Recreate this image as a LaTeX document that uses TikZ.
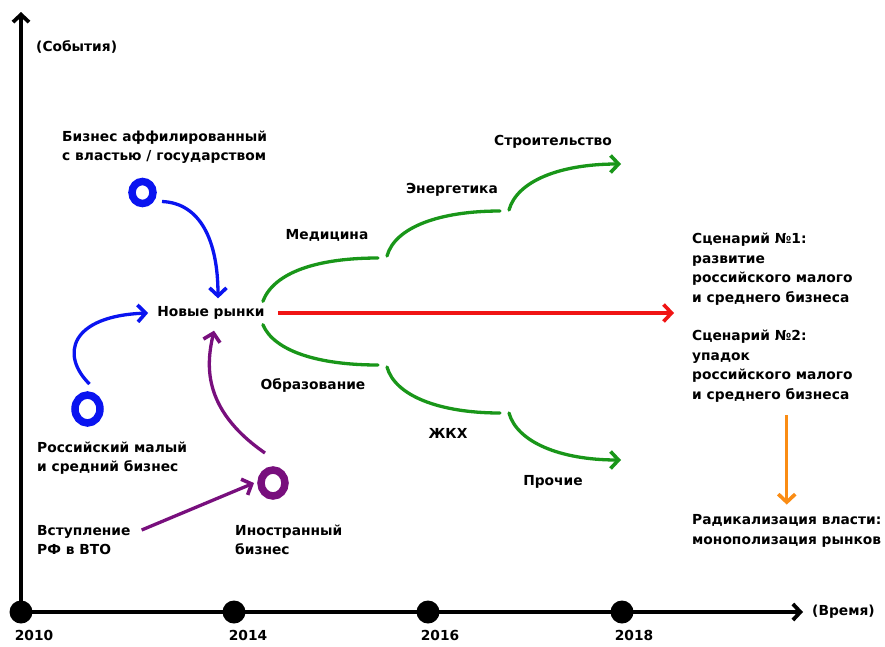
\documentclass[tikz,border=0pt]{standalone}
\usepackage{fontspec}
\setmainfont{DejaVu Sans}
\usetikzlibrary{arrows.meta,shapes.geometric}

\definecolor{ringblue}{RGB}{10,20,240}
\definecolor{ringpurple}{RGB}{120,15,125}
\definecolor{branchgreen}{RGB}{25,150,25}
\definecolor{mainred}{RGB}{240,20,20}
\definecolor{fallorange}{RGB}{250,140,20}

\tikzset{
  txt/.style={font=\bfseries\fontsize{13.8}{19.5}\selectfont, inner sep=1pt, align=left},
  ring/.style={ellipse, draw, line width=7.5pt, outer sep=7pt, inner sep=0pt},
  yeardot/.style={circle, fill=black, minimum size=23pt, inner sep=0pt},
  axis/.style={line width=3.6pt, -{Straight Barb[length=7.5pt,width=16pt,line width=3.8pt]}},
  link/.style={line width=3.3pt, -{Straight Barb[length=8pt,width=17pt,line width=3.6pt]}},
  branch/.style={line width=3.3pt, draw=branchgreen, line cap=round},
}

\begin{document}
\begin{tikzpicture}[x=1pt,y=-1pt]
  \useasboundingbox (0,0) rectangle (885,646);

  % axes
  \coordinate (ytip) at (21,12);
  \coordinate (xtip) at (803,612);
  \draw[axis] (21,612) -- (ytip);
  \draw[axis] (21,612) -- (xtip);
  \node[yeardot, label={[txt, xshift=13pt, label distance=5pt]below:2010}] (y2010) at (21,612) {};
  \node[yeardot, label={[txt, xshift=14pt, label distance=5pt]below:2014}] (y2014) at (234,612) {};
  \node[yeardot, label={[txt, xshift=12pt, label distance=5pt]below:2016}] (y2016) at (428,612) {};
  \node[yeardot, label={[txt, xshift=12pt, label distance=5pt]below:2018}] (y2018) at (622,612) {};
  \node[txt, anchor=west] (events) at (35,47) {(События)};
  \node[txt, anchor=west] (time) at (811,612) {(Время)};

  % actors
  \node[txt, anchor=west] (aff) at (61,147) {Бизнес аффилированный\\с властью / государством};
  \node[ring, draw=ringblue, minimum width=21pt, minimum height=22pt] (ring1) at (142.5,192.5) {};
  \node[ring, draw=ringblue, minimum width=25pt, minimum height=28pt] (ring2) at (87.5,409) {};
  \node[txt, anchor=west] (smb) at (36,458) {Российский малый\\и средний бизнес};
  \node[ring, draw=ringpurple, minimum width=24pt, minimum height=26pt] (ring3) at (273,483) {};
  \node[txt, anchor=west] (wto) at (36,540) {Вступление\\РФ в ВТО};
  \node[txt, anchor=west] (foreign) at (234,540) {Иностранный\\бизнес};
  \node[txt] (markets) at (211,313) {Новые рынки};

  \draw[link, ringblue] ([xshift=2pt,yshift=-9pt]ring1.east) .. controls (200,203) and (218,240) .. ([xshift=7pt,yshift=7pt]markets.north);
  \draw[link, ringblue] ([xshift=2pt,yshift=4pt]ring2.north) .. controls (60,355) and (70,316) .. ([xshift=-8pt]markets.west);
  \draw[link, ringpurple] ([xshift=-8pt,yshift=10pt]ring3.north) .. controls (200,408) and (207,362) .. ([xshift=3pt,yshift=-10pt]markets.south);
  \draw[link, ringpurple] ([xshift=10pt,yshift=10pt]wto.east) -- (ring3.west);

  % branches
  \coordinate (u1) at (378,258);
  \coordinate (u2) at (387,256);
  \coordinate (u3) at (500,211);
  \coordinate (u4) at (509,210);
  \coordinate (u5) at (621,164);
  \coordinate (l1) at (378,365);
  \coordinate (l2) at (387,367);
  \coordinate (l3) at (500,413);
  \coordinate (l4) at (509,413);
  \coordinate (l5) at (621,460);
  \draw[branch] ([xshift=-3pt,yshift=4pt]markets.north east) .. controls (274,272) and (318,258) .. (u1);
  \draw[branch] (u2) .. controls (395,227) and (440,211) .. (u3);
  \draw[branch, link, branchgreen] (u4) .. controls (517,181) and (560,164) .. (u5);
  \draw[branch] ([xshift=-3pt,yshift=-4pt]markets.south east) .. controls (274,351) and (318,365) .. (l1);
  \draw[branch] (l2) .. controls (395,396) and (440,413) .. (l3);
  \draw[branch, link, branchgreen] (l4) .. controls (517,442) and (560,460) .. (l5);
  \node[txt] (med) at (327,235) {Медицина};
  \node[txt] (energy) at (452,190) {Энергетика};
  \node[txt] (constr) at (553,142) {Строительство};
  \node[txt] (edu) at (313,385) {Образование};
  \node[txt] (zhkh) at (448,433) {ЖКХ};
  \node[txt] (other) at (553,482) {Прочие};

  % scenarios
  \coordinate (fork) at (674,313);
  \draw[link, mainred] ([xshift=12pt]markets.east) -- (fork);
  \node[txt, anchor=west] (scen1) at (691,269) {Сценарий №1:\\развитие\\российского малого\\и среднего бизнеса};
  \node[txt, anchor=west] (scen2) at (691,366) {Сценарий №2:\\упадок\\российского малого\\и среднего бизнеса};
  \node[txt, anchor=west] (radical) at (691,531) {Радикализация власти:\\монополизация рынков};
  \draw[link, fallorange, shorten <=12pt, shorten >=9pt] (scen2.south -| radical.north) -- (radical.north);
\end{tikzpicture}
\end{document}
